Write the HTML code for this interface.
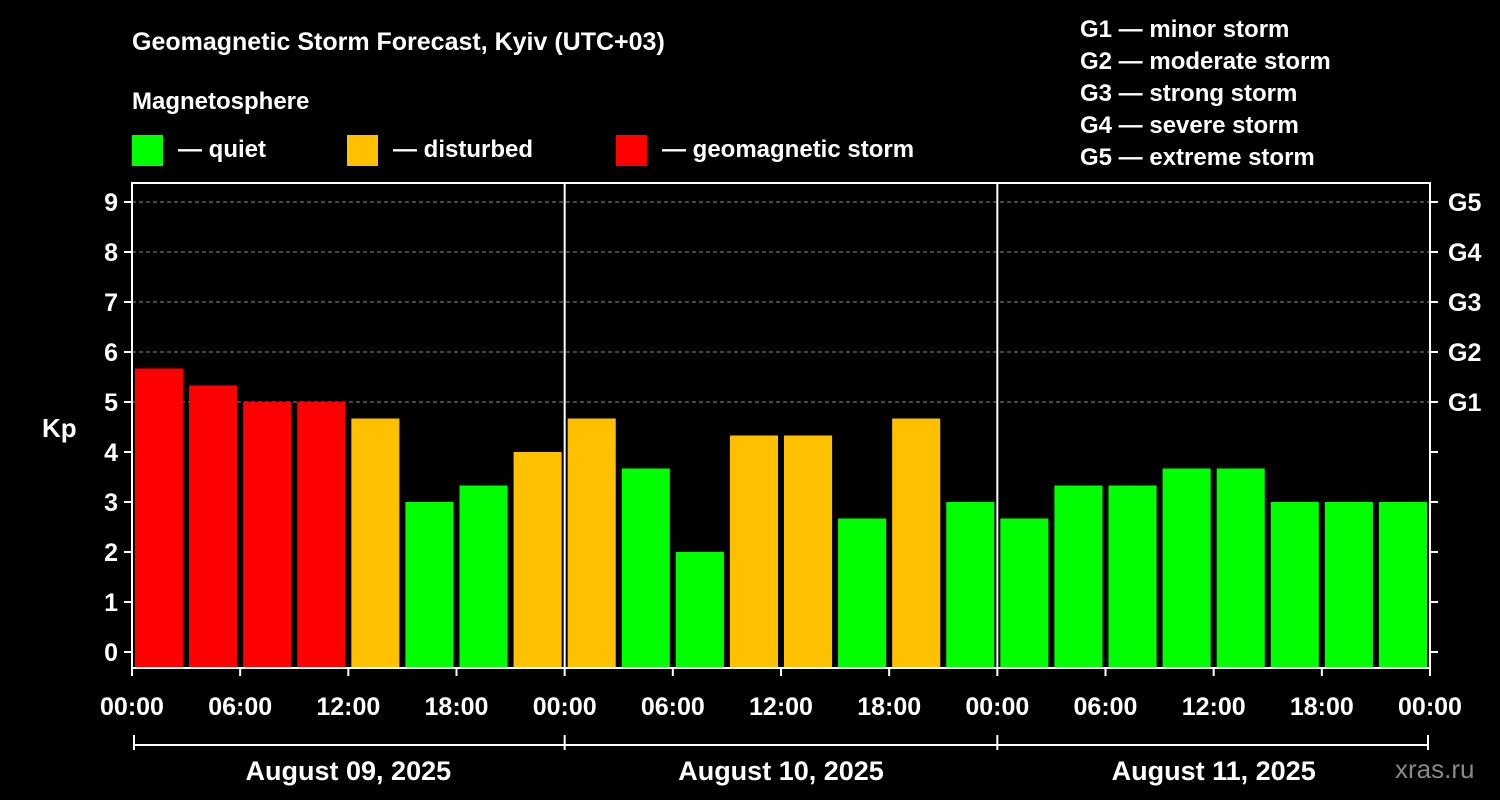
<!DOCTYPE html>
<html><head><meta charset="utf-8"><style>
body{margin:0;background:#000;}
svg{display:block;font-family:"Liberation Sans",sans-serif;font-weight:bold;}
</style></head><body>
<svg id="c" width="1500" height="800" viewBox="0 0 1500 800">
<rect width="1500" height="800" fill="#000"/>
<text x="132" y="50" fill="#fff" font-size="25">Geomagnetic Storm Forecast, Kyiv (UTC+03)</text>
<text x="132" y="109" fill="#fff" font-size="24">Magnetosphere</text>
<g><rect x="132" y="135" width="31" height="31" fill="#00ff00"/><text x="178" y="157" fill="#fff" font-size="24">— quiet</text></g>
<g><rect x="347" y="135" width="31" height="31" fill="#ffc000"/><text x="393" y="157" fill="#fff" font-size="24">— disturbed</text></g>
<g><rect x="616" y="135" width="31" height="31" fill="#ff0000"/><text x="662" y="157" fill="#fff" font-size="24">— geomagnetic storm</text></g>
<g fill="#fff" font-size="24">
<text x="1080" y="37">G1 — minor storm</text><text x="1080" y="69">G2 — moderate storm</text><text x="1080" y="101">G3 — strong storm</text><text x="1080" y="133">G4 — severe storm</text><text x="1080" y="165">G5 — extreme storm</text>
</g>
<text x="42" y="437" fill="#fff" font-size="26">Kp</text>
<text x="1395" y="778" fill="#888" font-size="26" font-weight="normal">xras.ru</text>
<g id="plot"></g>
</svg>
<script>
const kpValues=[5.67,5.33,5,5,4.67,3,3.33,4,4.67,3.67,2,4.33,4.33,2.67,4.67,3,2.67,3.33,3.33,3.67,3.67,3,3,3];
const yTicks=[0,1,2,3,4,5,6,7,8,9];
const gLabels=["G1","G2","G3","G4","G5"];
const xTickLabels=["00:00","06:00","12:00","18:00","00:00","06:00","12:00","18:00","00:00","06:00","12:00","18:00","00:00"];
const dayLabels=["August 09, 2025","August 10, 2025","August 11, 2025"];
const NS="http://www.w3.org/2000/svg";
const g=document.getElementById('plot');
const L=132,R=1430,T=183,B=668;
const y=v=>652-v*50;
const slot=(R-L)/kpValues.length;
const x=i=>L+i*slot;
function mk(t,a,txt){const e=document.createElementNS(NS,t);for(const k in a)e.setAttribute(k,a[k]);if(txt!=null)e.textContent=txt;g.appendChild(e);return e;}
// grid
for(let v=5;v<=9;v++){const e=mk('line',{x1:L,x2:R,y1:y(v),y2:y(v),stroke:'#888','stroke-width':1,'stroke-dasharray':'4,3'});

}
// bars
kpValues.forEach((v,i)=>{const c=v>=5?'#ff0000':(v>=4?'#ffc000':'#00ff00');
const e=mk('rect',{x:x(i)+3,y:y(v),width:slot-6,height:B-y(v),fill:c});

});
// frame
const f=mk('rect',{x:L,y:T,width:R-L,height:B-T,fill:'none',stroke:'#fff','stroke-width':2});


[1,2].forEach(d=>{const e=mk('line',{x1:x(d*8),x2:x(d*8),y1:T,y2:B,stroke:'#fff','stroke-width':2});

});
// y ticks
yTicks.forEach(v=>{mk('line',{x1:L-8,x2:L,y1:y(v),y2:y(v),stroke:'#fff','stroke-width':2});
mk('line',{x1:R,x2:R+8,y1:y(v),y2:y(v),stroke:'#fff','stroke-width':2});
const t=mk('text',{x:L-14,y:y(v)+9,fill:'#fff','font-size':25,'text-anchor':'end'},v);

});
gLabels.forEach((s,i)=>{const t=mk('text',{x:R+18,y:y(5+i)+9,fill:'#fff','font-size':25},s);

});
// x ticks
xTickLabels.forEach((s,i)=>{const xx=x(i*2);mk('line',{x1:xx,x2:xx,y1:B,y2:B+8,stroke:'#fff','stroke-width':2});
const t=mk('text',{x:xx,y:715,fill:'#fff','font-size':25,'text-anchor':'middle'},s);

});
// day bracket
const br=mk('line',{x1:L+2,x2:R-2,y1:745,y2:745,stroke:'#fff','stroke-width':2});


for(let d=0;d<=3;d++){const xx=x(d*8)+(d==0?2:d==3?-2:0);mk('line',{x1:xx,x2:xx,y1:735,y2:750,stroke:'#fff','stroke-width':2});}
dayLabels.forEach((s,d)=>{const t=mk('text',{x:(x(d*8)+x(d*8+8))/2,y:780,fill:'#fff','font-size':27,'text-anchor':'middle'},s);

});
</script>
</body></html>
